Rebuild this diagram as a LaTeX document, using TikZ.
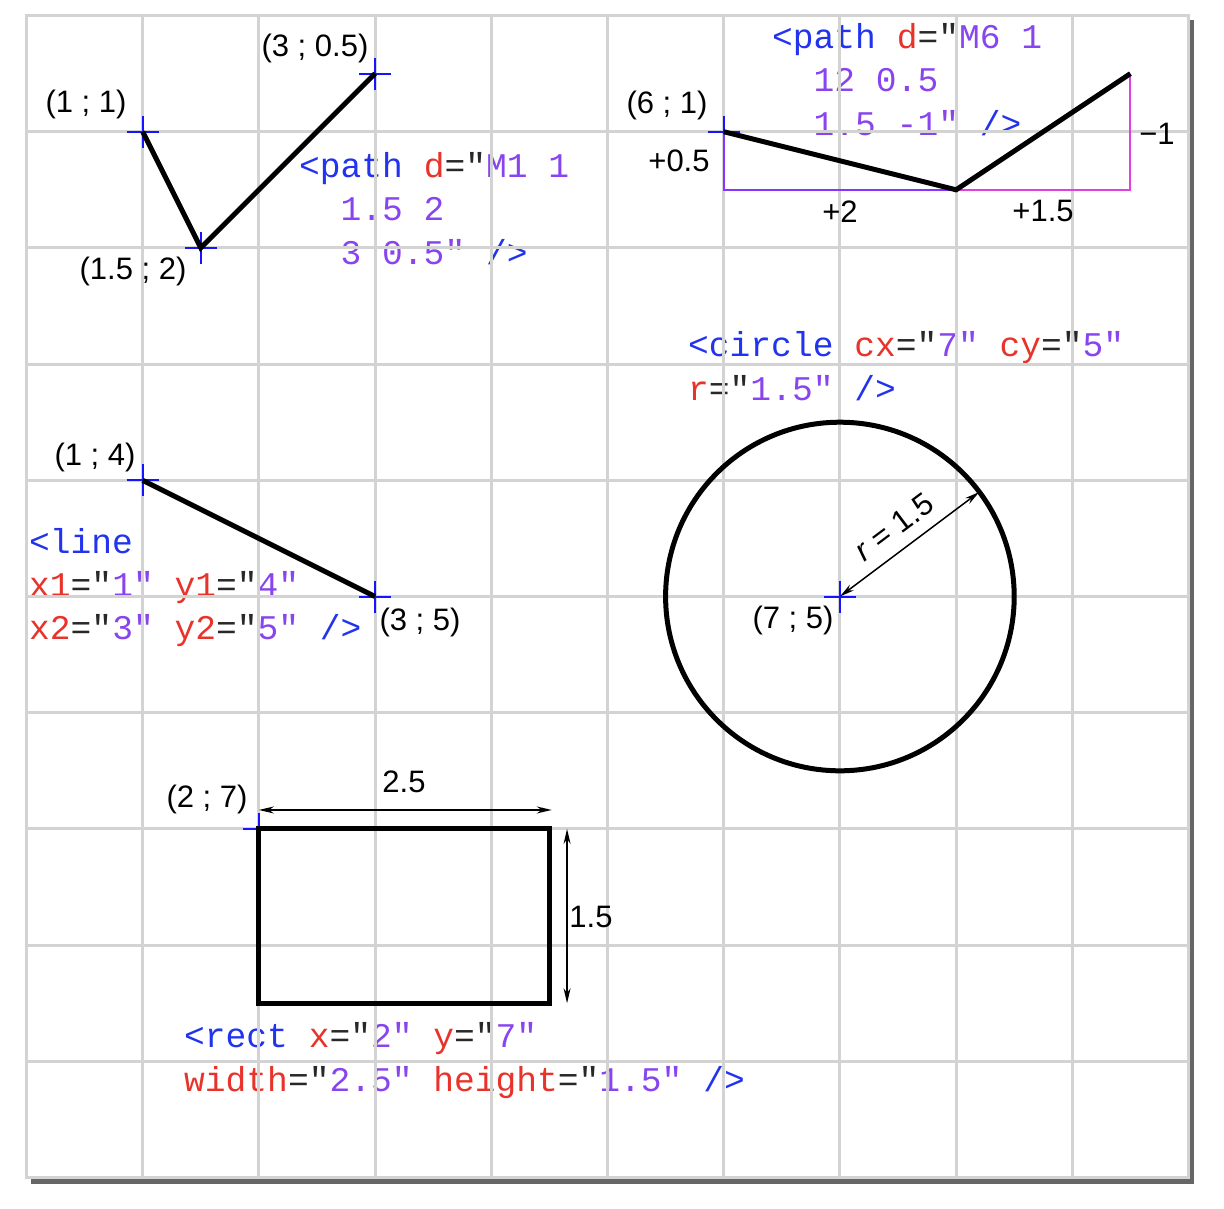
\documentclass[tikz,border=0pt]{standalone}
\usepackage{fontspec}
\setmainfont{Liberation Sans}
\newfontfamily\codefont{Liberation Mono}
\usetikzlibrary{arrows.meta}
\definecolor{tagblue}{RGB}{34,51,238}
\definecolor{attrred}{RGB}{232,51,42}
\definecolor{valpurple}{RGB}{136,68,238}
\definecolor{eqdark}{RGB}{40,40,40}
\definecolor{gridgray}{RGB}{211,211,211}
\definecolor{shadowgray}{RGB}{102,102,102}
\definecolor{dxpurple}{RGB}{136,51,255}
\definecolor{dymagenta}{RGB}{224,64,224}
\definecolor{crossblue}{RGB}{20,20,255}
\newcommand{\cT}[1]{\textcolor{tagblue}{#1}}
\newcommand{\cA}[1]{\textcolor{attrred}{#1}}
\newcommand{\cV}[1]{\textcolor{valpurple}{#1}}
\newcommand{\cE}[1]{\textcolor{eqdark}{#1}}
\tikzset{
  codetext/.style={font=\codefont\fontsize{34.6}{40}\selectfont, anchor=base west, inner sep=0pt},
  lbl/.style={font=\fontsize{31}{36}\selectfont, inner sep=0pt, text=black},
  gridline/.style={draw=gridgray, line width=3pt},
  shapeline/.style={draw=black, line width=5pt},
  crossline/.style={draw=crossblue, line width=2pt},
  dimline/.style={draw=black, line width=1.5pt, {Stealth[open,length=15pt,width=7pt]}-{Stealth[open,length=15pt,width=7pt]}},
  xcross/.pic={\draw[crossline] (-16pt,0) -- (16pt,0) (0,-16pt) -- (0,16pt);}
}
\begin{document}
\begin{tikzpicture}[x=1pt,y=-1pt]
\useasboundingbox (0,0) rectangle (1224,1208);
% shadow and background
\fill[shadowgray] (31,20) rectangle (1194,1184);
\fill[white] (26.5,15.5) rectangle (1188.5,1177.5);

% code texts
\node[codetext] (c1a) at (299,177) {\cT{<path} \cA{d}\cE{="}\cV{M1 1}};
\node[codetext] (c1b) at (340.5,220) {\cV{1.5 2}};
\node[codetext] (c1c) at (340.5,264) {\cV{3 0.5"} \cT{/>}};

\node[codetext] (c2a) at (772,48) {\cT{<path} \cA{d}\cE{="}\cV{M6 1}};
\node[codetext] (c2b) at (813.5,91) {\cV{12 0.5}};
\node[codetext] (c2c) at (813.5,135) {\cV{1.5 -1"} \cT{/>}};

\node[codetext] (c3a) at (688,356) {\cT{<circle} \cA{cx}\cE{="}\cV{7"} \cA{cy}\cE{="}\cV{5"}};
\node[codetext] (c3b) at (688,400) {\cA{r}\cE{="}\cV{1.5"} \cT{/>}};

\node[codetext] (c4a) at (29,553) {\cT{<line}};
\node[codetext] (c4b) at (29,596) {\cA{x1}\cE{="}\cV{1"} \cA{y1}\cE{="}\cV{4"}};
\node[codetext] (c4c) at (29,639) {\cA{x2}\cE{="}\cV{3"} \cA{y2}\cE{="}\cV{5"} \cT{/>}};

\node[codetext] (c5a) at (184,1047) {\cT{<rect} \cA{x}\cE{="}\cV{2"} \cA{y}\cE{="}\cV{7"}};
\node[codetext] (c5b) at (184,1091) {\cA{width}\cE{="}\cV{2.5"} \cA{height}\cE{="}\cV{1.5"} \cT{/>}};

\begin{scope}[shift={(26.5pt,-15.5pt)}, x=116.2pt, y=-116.2pt]
  % grid
  \foreach \i in {1,...,9} {
    \draw[gridline] (\i,0) -- (\i,10);
    \draw[gridline] (0,\i) -- (10,\i);
  }
  \draw[gridline] (0,0) rectangle (10,10);

  % points
  \coordinate (p1) at (1,1);
  \coordinate (p2) at (1.5,2);
  \coordinate (p3) at (3,0.5);
  \coordinate (q1) at (6,1);
  \coordinate (q2) at (8,1.5);
  \coordinate (q3) at (9.5,0.5);
  \coordinate (q0) at (6,1.5);
  \coordinate (q4) at (9.5,1.5);
  \coordinate (l1) at (1,4);
  \coordinate (l2) at (3,5);
  \coordinate (cc) at (7,5);
  \coordinate (cr) at (8.2,4.1);
  \coordinate (r1) at (2,7);
  \coordinate (r2) at (4.5,8.5);
  \coordinate (wa) at (2,6.837);
  \coordinate (wb) at (4.52,6.837);
  \coordinate (ha) at (4.652,7);
  \coordinate (hb) at (4.652,8.5);

  % crosses
  \foreach \p in {p1,p2,p3,q1,l1,l2,cc,r1} { \pic at (\p) {xcross}; }

  % helper lines for relative path
  \draw[draw=dxpurple, line width=2pt] (q1) -- (q0) -- (q2);
  \draw[draw=dymagenta, line width=2pt] (q2) -- (q4) -- (q3);

  % shapes
  \draw[shapeline] (p1) -- (p2) -- (p3);
  \draw[shapeline] (q1) -- (q2) -- (q3);
  \draw[shapeline] (l1) -- (l2);
  \draw[shapeline] (cc) circle[radius=1.5];
  \draw[shapeline] (r1) rectangle (r2);

  % dimension arrows
  \draw[dimline] (cc) -- (cr);
  \draw[dimline] (wa) -- (wb);
  \draw[dimline] (ha) -- (hb);
\end{scope}

% labels
\node[lbl] (t1) at (86,104) {(1 ; 1)};
\node[lbl] (t2) at (315,48) {(3 ; 0.5)};
\node[lbl] (t3) at (133,271) {(1.5 ; 2)};
\node[lbl] (t4) at (667,105) {(6 ; 1)};
\node[lbl] (t5) at (679,161) {+0.5};
\node[lbl] (t6) at (840,212) {+2};
\node[lbl] (t7) at (1043,211) {+1.5};
\node[lbl] (t8) at (1157,134) {−1};
\node[lbl] (t9) at (95,457) {(1 ; 4)};
\node[lbl] (t10) at (420,622) {(3 ; 5)};
\node[lbl] (t11) at (793,620) {(7 ; 5)};
\node[lbl, rotate=36.87] (t12) at (894,527) {\textit{r} = 1.5};
\node[lbl] (t13) at (207,799) {(2 ; 7)};
\node[lbl] (t14) at (404,782) {2.5};
\node[lbl] (t15) at (591,917) {1.5};
\end{tikzpicture}
\end{document}
